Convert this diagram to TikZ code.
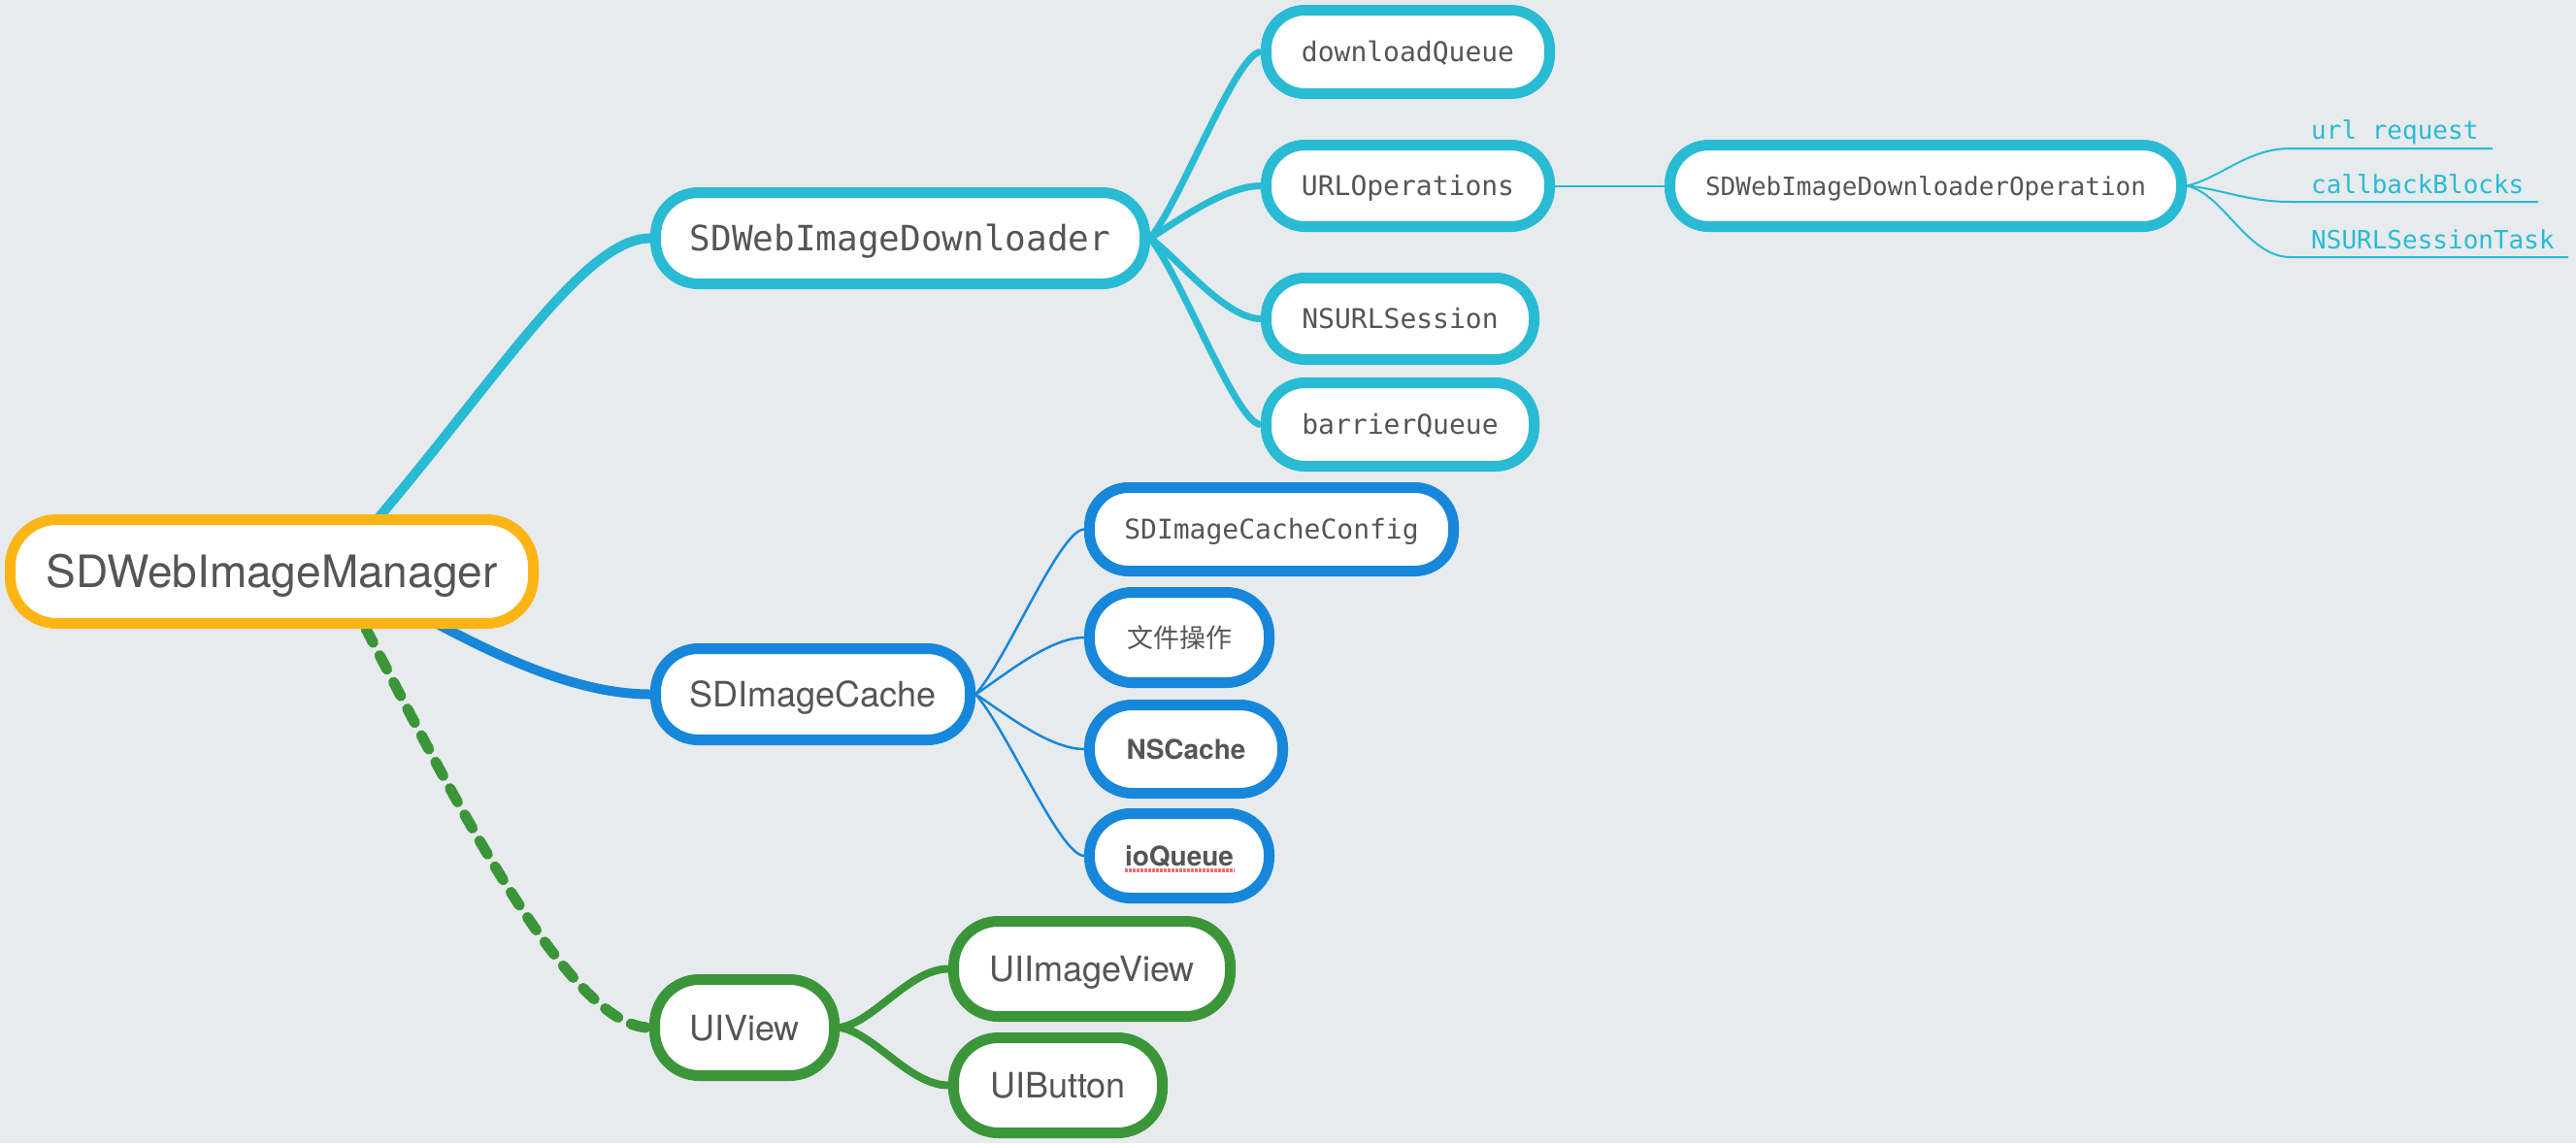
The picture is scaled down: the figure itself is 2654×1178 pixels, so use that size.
\documentclass[tikz,border=0pt]{standalone}
\usepackage{fontspec}
\setmainfont{TeX Gyre Heros}
\newfontfamily\monof{DejaVu Sans Mono}
\newfontfamily\cjkf{Noto Sans CJK SC}
\usetikzlibrary{calc}
\definecolor{bgc}{HTML}{E7EBEE}
\definecolor{orangec}{HTML}{FDB515}
\definecolor{cyanc}{HTML}{29BBD3}
\definecolor{bluec}{HTML}{1687DB}
\definecolor{greenc}{HTML}{3B9639}
\definecolor{txt}{HTML}{555555}
\definecolor{spellc}{HTML}{F07070}
\pgfdeclarelayer{back}
\pgfdeclarelayer{links}
\pgfsetlayers{back,links,main}
\tikzset{
  box/.style={draw, fill=white, line width=11pt, rounded corners=40pt, inner sep=0pt, text=txt, align=center},
  bigsans/.style={font=\fontsize{46}{50}\selectfont, text height=33pt, text depth=0pt},
  sans/.style={font=\fontsize{36}{40}\selectfont, text height=26pt, text depth=0pt},
  boldsans/.style={font=\bfseries\fontsize{28}{32}\selectfont, text height=20pt, text depth=0pt},
  bigmono/.style={font=\monof\fontsize{36}{40}\selectfont, text height=26pt, text depth=0pt},
  mono/.style={font=\monof\fontsize{28}{32}\selectfont, text height=20.5pt, text depth=0pt},
  smallmono/.style={font=\monof\fontsize{26}{30}\selectfont, text height=19pt, text depth=0pt},
  cjk/.style={font=\cjkf\fontsize{27}{30}\selectfont, text height=20pt, text depth=0pt},
  lbl/.style={anchor=base west, inner sep=0pt, text=cyanc, font=\monof\fontsize{26}{30}\selectfont},
  cyanbox/.style={box, draw=cyanc},
  bluebox/.style={box, draw=bluec},
  greenbox/.style={box, draw=greenc},
  mainlink/.style={line width=10pt},
  cyanfan/.style={draw=cyanc, line width=7pt},
  bluefan/.style={draw=bluec, line width=2.5pt},
  greenfan/.style={draw=greenc, line width=8pt},
  thinlink/.style={draw=cyanc, line width=2pt},
  dashlink/.style={draw=greenc, line width=11pt, line cap=round, dash pattern=on 16pt off 15pt},
  spellline/.style={draw=spellc, line width=4pt, dash pattern=on 2.5pt off 1.5pt}
}
\begin{document}
\begin{tikzpicture}[x=1pt, y=-1pt]
\begin{pgfonlayer}{back}
  \fill[bgc] (0,0) rectangle (2654,1178);
\end{pgfonlayer}
\useasboundingbox (0,0) rectangle (2654,1178);

% root
\node[box, draw=orangec, bigsans, rounded corners=48pt, minimum width=539pt, minimum height=107pt] (mgr) at (280,589) {SDWebImageManager};

% downloader branch
\node[cyanbox, bigmono, rounded corners=44pt, minimum width=504pt, minimum height=94pt] (dl) at (927.5,245.5) {SDWebImageDownloader};
\node[cyanbox, mono, minimum width=292pt, minimum height=86pt] (dq) at (1450.5,53.5) {downloadQueue};
\node[cyanbox, mono, minimum width=292pt, minimum height=84pt] (uo) at (1450.5,191.5) {URLOperations};
\node[cyanbox, mono, minimum width=276pt, minimum height=84pt] (ns) at (1442.5,328.5) {NSURLSession};
\node[cyanbox, mono, minimum width=276pt, minimum height=86pt] (bq) at (1442.5,437.5) {barrierQueue};
\node[cyanbox, smallmono, minimum width=527pt, minimum height=84pt] (op) at (1984,191.5) {SDWebImageDownloaderOperation};

\node[lbl] (l1) at (2381,143) {url request};
\node[lbl] (l2) at (2381,199) {callbackBlocks};
\node[lbl] (l3) at (2381,256) {NSURLSessionTask};
\coordinate (u1a) at (2360,153); \coordinate (u1b) at (2568,153);
\coordinate (u2a) at (2360,208); \coordinate (u2b) at (2615,208);
\coordinate (u3a) at (2360,265); \coordinate (u3b) at (2646,265);

% cache branch
\node[bluebox, sans, rounded corners=44pt, minimum width=324pt, minimum height=94pt] (cache) at (837.5,715.5) {SDImageCache};
\node[bluebox, mono, minimum width=375pt, minimum height=86pt] (cfg) at (1310,545.5) {SDImageCacheConfig};
\node[bluebox, cjk, rounded corners=44pt, minimum width=185pt, minimum height=93pt] (file) at (1215,657) {文件操作};
\node[bluebox, boldsans, rounded corners=44pt, minimum width=199pt, minimum height=91pt] (nsc) at (1222,772) {NSCache};
\node[bluebox, boldsans, rounded corners=42pt, minimum width=185pt, minimum height=87pt] (ioq) at (1215,882) {ioQueue};
\draw[spellline] ($(ioq.center)+(-56,15)$) -- ($(ioq.center)+(57,15)$);

% view branch
\node[greenbox, sans, rounded corners=46pt, minimum width=185pt, minimum height=99pt] (uiv) at (767,1059) {UIView};
\node[greenbox, sans, rounded corners=46pt, minimum width=285pt, minimum height=98pt] (uiiv) at (1125,998.5) {UIImageView};
\node[greenbox, sans, rounded corners=46pt, minimum width=215pt, minimum height=98pt] (uib) at (1090,1118.5) {UIButton};

\begin{pgfonlayer}{links}
  % main links
  \draw[mainlink, draw=cyanc] ([xshift=90pt,yshift=-27pt]mgr.north) .. controls +(140,-162) and +(-70,0) .. (dl.west);
  \draw[mainlink, draw=bluec] ([xshift=165pt,yshift=8pt]mgr.south) .. controls +(78,42) and +(-70,0) .. (cache.west);
  \draw[dashlink] ([xshift=97pt]mgr.south) .. controls +(83,160) and +(-84,0) .. (uiv.west);
  % downloader fan
  \draw[cyanfan] (dl.east) .. controls +(32,-39) and +(-25,0) .. (dq.west);
  \draw[cyanfan] (dl.east) .. controls +(27,-17) and +(-37,0) .. (uo.west);
  \draw[cyanfan] (dl.east) .. controls +(27,19) and +(-37,0) .. (ns.west);
  \draw[cyanfan] (dl.east) .. controls +(32,39) and +(-25,0) .. (bq.west);
  \draw[thinlink] (uo.east) -- (op.west);
  % operation fan
  \draw[thinlink] (op.east) .. controls +(35,-8) and +(-45,0) .. (u1a) -- (u1b);
  \draw[thinlink] (op.east) .. controls +(35,3) and +(-45,0) .. (u2a) -- (u2b);
  \draw[thinlink] (op.east) .. controls +(38,8) and +(-45,0) .. (u3a) -- (u3b);
  % cache fan
  \draw[bluefan] (cache.east) .. controls +(32,-35) and +(-25,0) .. (cfg.west);
  \draw[bluefan] (cache.east) .. controls +(27,-17) and +(-37,0) .. (file.west);
  \draw[bluefan] (cache.east) .. controls +(27,17) and +(-37,0) .. (nsc.west);
  \draw[bluefan] (cache.east) .. controls +(32,35) and +(-25,0) .. (ioq.west);
  % view fan
  \draw[greenfan] (uiv.east) .. controls +(35,-5) and +(-40,0) .. (uiiv.west);
  \draw[greenfan] (uiv.east) .. controls +(35,5) and +(-40,0) .. (uib.west);
\end{pgfonlayer}
\end{tikzpicture}
\end{document}
